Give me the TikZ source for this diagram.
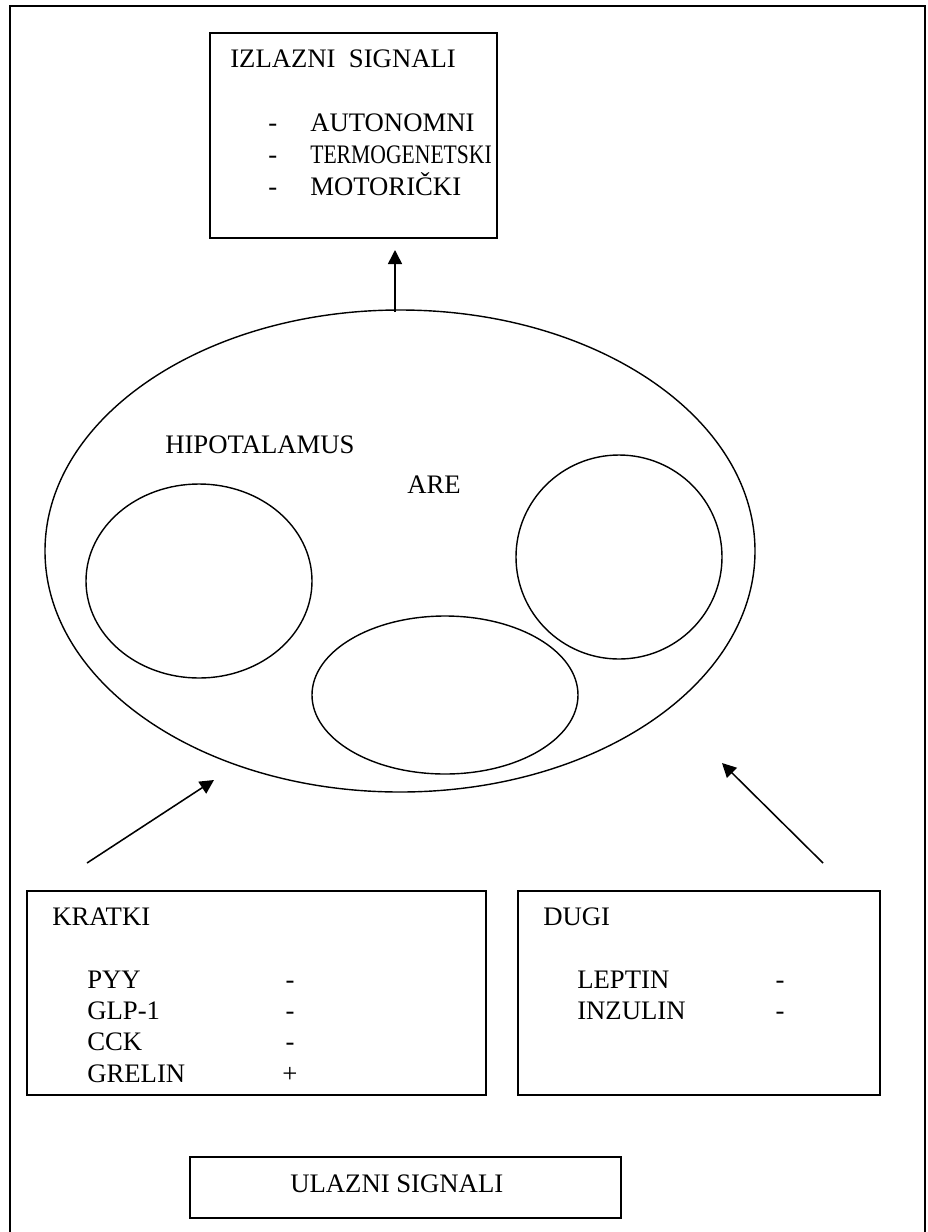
\documentclass[tikz,border=0pt]{standalone}
\usepackage{fontspec}
\setmainfont{Liberation Serif}
\usetikzlibrary{arrows.meta}
\tikzset{
  txt/.style={anchor=base west, inner sep=0pt, font=\fontsize{19}{23}\selectfont},
  sign/.style={anchor=base, inner sep=0pt, font=\fontsize{19}{23}\selectfont},
  box/.style={line width=1.3pt},
  blob/.style={line width=1pt},
  sig/.style={line width=1.1pt, -{Triangle[length=10pt,width=10pt]}},
}
\begin{document}
\begin{tikzpicture}[x=0.025cm, y=-0.025cm]
\useasboundingbox (0,0) rectangle (928,1232);
% frame round the page
\draw[line width=1pt] (10,1232) -- (10,6) -- (925,6) -- (925,1232);

% output box
\draw[box] (210,33) rectangle (497,238);
\node[txt] (izlaz) at (230,67) {IZLAZNI\ \ SIGNALI};
\node[txt] (dA) at (268,131) {-};
\node[txt] (auto) at (310,131) {AUTONOMNI};
\node[txt] (dT) at (268,163) {-};
\node[txt] (termo) at (310,163) {\scalebox{0.81}[1]{TERMOGENETSKI}};
\node[txt] (dM) at (268,195) {-};
\node[txt] (motor) at (310,195) {MOTORIČKI};

% hypothalamus
\draw[blob] (400,551) ellipse [x radius=355, y radius=241];
\draw[blob] (199,581) ellipse [x radius=113, y radius=97];
\draw[blob] (445,695) ellipse [x radius=133, y radius=79];
\draw[blob] (619,557) ellipse [x radius=103, y radius=102];
\node[txt] (hipo) at (165,453) {HIPOTALAMUS};
\node[txt] (are) at (407,493) {ARE};

% short signals
\draw[box] (27,891) rectangle (486,1095);
\node[txt] (kratki) at (52,925) {KRATKI};
\node[txt] (pyy) at (87,988) {PYY};
\node[sign] (pyyS) at (290,988) {-};
\node[txt] (glp) at (87,1019) {GLP-1};
\node[sign] (glpS) at (290,1019) {-};
\node[txt] (cck) at (87,1050) {CCK};
\node[sign] (cckS) at (290,1050) {-};
\node[txt] (grelin) at (87,1082) {GRELIN};
\node[sign] (grelinS) at (290,1082) {+};

% long signals
\draw[box] (518,891) rectangle (880,1095);
\node[txt] (dugi) at (543,925) {DUGI};
\node[txt] (leptin) at (577,988) {LEPTIN};
\node[sign] (leptinS) at (780,988) {-};
\node[txt] (inzulin) at (577,1019) {INZULIN};
\node[sign] (inzulinS) at (780,1019) {-};

% input box
\draw[box] (190,1157) rectangle (621,1218);
\node[txt] (ulaz) at (290,1192) {ULAZNI SIGNALI};

% arrows
\coordinate (outFrom) at (395,312);
\coordinate (outTo) at (395,250);
\coordinate (kFrom) at (87,863);
\coordinate (kTo) at (214,780);
\coordinate (dFrom) at (823,863);
\coordinate (dTo) at (722,763);
\draw[sig] (outFrom) -- (outTo);
\draw[sig] (kFrom) -- (kTo);
\draw[sig] (dFrom) -- (dTo);
\end{tikzpicture}
\end{document}
